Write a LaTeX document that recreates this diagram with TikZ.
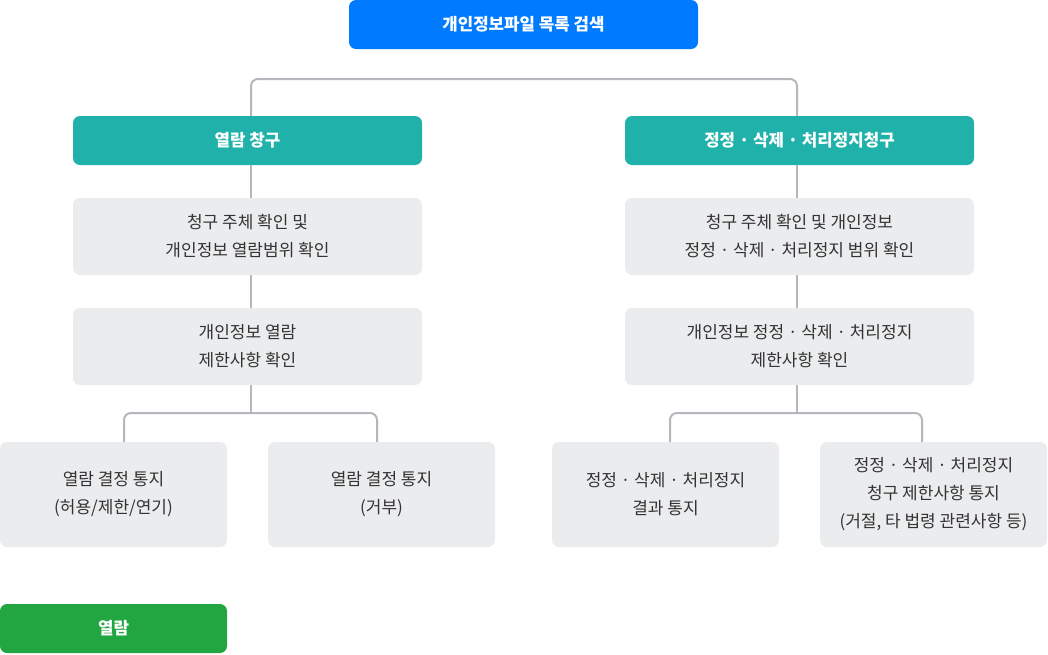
\documentclass[tikz,border=0pt]{standalone}
\usepackage{fontspec}
\setmainfont{Noto Sans CJK KR}
\definecolor{cblue}{HTML}{007BFF}
\definecolor{cteal}{HTML}{20B2AA}
\definecolor{cgreen}{HTML}{22A641}
\definecolor{cgray}{HTML}{EBECEE}
\definecolor{cline}{HTML}{B4B8BD}
\definecolor{ctext}{HTML}{333333}
\begin{document}
\begin{tikzpicture}[x=1pt,y=-1pt,
  base/.style={rounded corners=7pt, inner sep=0pt, align=center, anchor=center},
  head/.style={base, minimum width=349pt, minimum height=49pt, text=white, font=\fontsize{16.8}{20}\selectfont\bfseries},
  grayboxa/.style={base, fill=cgray, minimum width=349pt, minimum height=77pt, text=ctext, font=\fontsize{17}{28}\selectfont},
  grayboxb/.style={base, fill=cgray, minimum width=227pt, minimum height=105pt, text=ctext, font=\fontsize{17}{28}\selectfont},
  conn/.style={draw=cline, line width=2pt, rounded corners=7pt}
]
\useasboundingbox (0,0) rectangle (1048,654);
\node[head, fill=cblue] (top) at (523.5,24.5) {개인정보파일 목록 검색};
\node[head, fill=cteal] (tl) at (247.5,140.5) {열람 창구};
\node[head, fill=cteal] (tr) at (799.5,140.5) {정정 · 삭제 · 처리정지청구};
\node[grayboxa] (l1) at (247.5,236.5) {청구 주체 확인 및\\개인정보 열람범위 확인};
\node[grayboxa] (l2) at (247.5,346.5) {개인정보 열람\\제한사항 확인};
\node[grayboxa] (r1) at (799.5,236.5) {청구 주체 확인 및 개인정보\\정정 · 삭제 · 처리정지 범위 확인};
\node[grayboxa] (r2) at (799.5,346.5) {개인정보 정정 · 삭제 · 처리정지\\제한사항 확인};
\node[grayboxb] (b1) at (113.5,494.5) {열람 결정 통지\\(허용/제한/연기)};
\node[grayboxb] (b2) at (381.5,494.5) {열람 결정 통지\\(거부)};
\node[grayboxb] (b3) at (665.5,494.5) {정정 · 삭제 · 처리정지\\결과 통지};
\node[grayboxb] (b4) at (933.5,494.5) {정정 · 삭제 · 처리정지\\청구 제한사항 통지\\(거절, 타 법령 관련사항 등)};
\node[head, fill=cgreen, minimum width=227pt] (g) at (113.5,628.5) {열람};

\coordinate (bar) at (523.5,79);
\coordinate (lsplit) at (251,413);
\coordinate (rsplit) at (797,413);
\coordinate (b1t) at (124,442);
\coordinate (b2t) at (377,442);
\coordinate (b3t) at (670,442);
\coordinate (b4t) at (922,442);

\draw[conn] ([xshift=3.5pt]tl.north) -- ([xshift=3.5pt]tl.north |- bar) -- ([xshift=-2.5pt]tr.north |- bar) -- ([xshift=-2.5pt]tr.north);
\draw[conn] ([xshift=3.5pt]tl.south) -- ([xshift=3.5pt]l1.north);
\draw[conn] ([xshift=3.5pt]l1.south) -- ([xshift=3.5pt]l2.north);
\draw[conn] ([xshift=-2.5pt]tr.south) -- ([xshift=-2.5pt]r1.north);
\draw[conn] ([xshift=-2.5pt]r1.south) -- ([xshift=-2.5pt]r2.north);
\draw[conn] ([xshift=3.5pt]l2.south) -- (lsplit);
\draw[conn] (b1t) -- (b1t |- lsplit) -- (b2t |- lsplit) -- (b2t);
\draw[conn] ([xshift=-2.5pt]r2.south) -- (rsplit);
\draw[conn] (b3t) -- (b3t |- rsplit) -- (b4t |- rsplit) -- (b4t);
\end{tikzpicture}
\end{document}
